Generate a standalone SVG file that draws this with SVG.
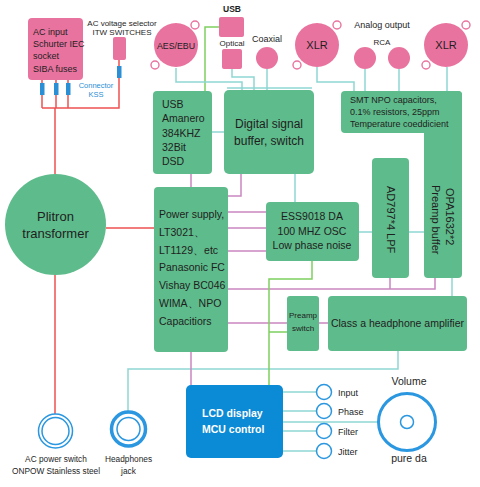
<svg xmlns="http://www.w3.org/2000/svg" width="480" height="487" viewBox="0 0 480 487">
<style>
text{font-family:"Liberation Sans",Arial,sans-serif;fill:#1e1e1e}
.pk{fill:#e9739f}
.gr{fill:#5ebb8b}
.ring{fill:#fff;stroke:#e9739f;stroke-width:1.4}
.red{stroke:#ee5050;stroke-width:1.5;fill:none}
.teal{stroke:#8ed6d2;stroke-width:1.5;fill:none}
.pur{stroke:#c987c0;stroke-width:1.5;fill:none}
.grn{stroke:#7fcf5f;stroke-width:1.5;fill:none}
.bl{stroke:#2a97e0;fill:none}
.kss{fill:#2b8fd6}
.m{text-anchor:middle}
</style>
<rect width="480" height="487" fill="#fff"/>
<g id="connectors">
  <path class="red" d="M42,80V108M56,80V108M68,80V108M42,108H119V60M55,108V174M106,228H154M55,275V414"/>
  <path class="grn" d="M219,27H205V91"/>
  <path class="teal" d="M176,68V82H242V90M232,69V77H254V90M267,69V90M227,88H312M317,67V82H354V91M365,69V91M399,69V91M447,67V91M212,132H224M295,174V202M359,232H372M409,232H424M452,278V296M398,351V369H128V411"/>
  <path class="pur" d="M191,174V187M241,174V196H228M228,212H266M228,228H266M228,251H266M228,289H435V278M390,289V278M228,323H287M319,323H328M191,352V385"/>
  <path class="grn" d="M312,261V279H269V385M269,332H287"/>
  <path class="teal" d="M283,392H316.5M283,411H316.5M283,422H378.5M283,431H316.5M283,451H316.5"/>
</g>
<g id="ac-input"><rect class="pk" x="28" y="18" width="55" height="62" rx="4"/>
  <text x="33" y="35" font-size="9">AC input</text><text x="33" y="47.2" font-size="9">Schurter IEC</text><text x="33" y="59.4" font-size="9">socket</text><text x="33" y="71.6" font-size="9">SIBA fuses</text></g>
<g id="kss-connectors"><rect class="kss" x="40" y="83" width="4.5" height="12"/><rect class="kss" x="54" y="83" width="4.5" height="12"/><rect class="kss" x="66" y="83" width="4.5" height="12"/><rect class="kss" x="117" y="66" width="4.5" height="12"/>
  <text class="m" x="96" y="88" font-size="7.5" style="fill:#2b8fd6">Connector</text><text class="m" x="96" y="97" font-size="7.5" style="fill:#2b8fd6">KSS</text></g>
<g id="ac-voltage-selector"><rect class="pk" x="113" y="37" width="13" height="23" rx="2"/>
  <text class="m" x="122" y="26" font-size="8">AC voltage selector</text><text class="m" x="122" y="35" font-size="8">ITW SWITCHES</text></g>
<g id="aes-ebu"><circle class="pk" cx="176" cy="45" r="22"/><circle class="ring" cx="195" cy="25" r="4"/><circle class="ring" cx="155" cy="65" r="4"/>
  <text class="m" x="176" y="49" font-size="8.8">AES/EBU</text></g>
<g id="usb-in"><rect class="pk" x="219" y="17" width="25" height="20" rx="2"/><text class="m" x="232" y="12" font-size="8.5" font-weight="bold">USB</text></g>
<g id="optical"><rect class="pk" x="222" y="49" width="20" height="20" rx="2"/><text class="m" x="232" y="46" font-size="8">Optical</text></g>
<g id="coaxial"><circle class="pk" cx="267" cy="58" r="11"/><text class="m" x="267" y="42" font-size="9">Coaxial</text></g>
<g id="xlr-left"><circle class="pk" cx="317" cy="45" r="22"/><circle class="ring" cx="337" cy="25" r="4"/><circle class="ring" cx="297" cy="65" r="4"/><text class="m" x="317" y="49" font-size="11">XLR</text></g>
<g id="analog-output"><text class="m" x="382" y="28" font-size="9">Analog output</text><text class="m" x="382" y="45" font-size="8">RCA</text>
  <circle class="pk" cx="365" cy="58" r="11"/><circle class="pk" cx="399" cy="58" r="11"/></g>
<g id="xlr-right"><circle class="pk" cx="446" cy="45" r="22"/><circle class="ring" cx="466" cy="25" r="4"/><circle class="ring" cx="426" cy="65" r="4"/><text class="m" x="446" y="49" font-size="11">XLR</text></g>
<g id="usb-amanero"><rect class="gr" x="153" y="91" width="59" height="83" rx="4"/>
  <text x="162" y="108" font-size="10.5">USB</text><text x="162" y="122.2" font-size="10.5">Amanero</text><text x="162" y="136.5" font-size="10.5">384KHZ</text><text x="162" y="150.7" font-size="10.5">32Bit</text><text x="162" y="165" font-size="10.5">DSD</text></g>
<g id="digital-buffer"><rect class="gr" x="224" y="90" width="90" height="84" rx="5"/>
  <text class="m" x="269" y="128" font-size="12">Digital signal</text><text class="m" x="269" y="145" font-size="12">buffer, switch</text></g>
<g id="smt-opa"><rect class="gr" x="341" y="91" width="121" height="42" rx="4"/><rect class="gr" x="424" y="91" width="38" height="187" rx="4"/>
  <text x="350" y="103" font-size="9">SMT NPO capacitors,</text><text x="350" y="115" font-size="9">0.1% resistors, 25ppm</text><text x="350" y="127" font-size="9">Temperature coeddicient</text>
  <text transform="translate(446,188) rotate(90)" font-size="11">OPA1632*2</text><text transform="translate(432,185) rotate(90)" font-size="11">Preamp buffer</text></g>
<g id="ad797"><rect class="gr" x="372" y="158" width="37" height="120" rx="4"/><text transform="translate(387,186) rotate(90)" font-size="11">AD797*4 LPF</text></g>
<g id="plitron"><circle class="gr" cx="55.5" cy="224.5" r="50.5"/><text class="m" x="55.5" y="221" font-size="13">Plitron</text><text class="m" x="55.5" y="238" font-size="13">transformer</text></g>
<g id="power-supply"><rect class="gr" x="154" y="187" width="74" height="165" rx="4"/>
  <text x="159" y="218" font-size="10.5">Power supply,</text><text x="159" y="236" font-size="10.5">LT3021、</text><text x="159" y="253.5" font-size="10.5">LT1129、etc</text><text x="159" y="271" font-size="10.5">Panasonic FC</text><text x="159" y="289" font-size="10.5">Vishay BC046</text><text x="159" y="306.5" font-size="10.5">WIMA、NPO</text><text x="159" y="324.5" font-size="10.5">Capacitiors</text></g>
<g id="ess9018"><rect class="gr" x="266" y="202" width="93" height="59" rx="4"/>
  <text class="m" x="312" y="220" font-size="10.5">ESS9018 DA</text><text class="m" x="312" y="234.7" font-size="10.5">100 MHZ OSC</text><text class="m" x="312" y="249.4" font-size="10.5">Low phase noise</text></g>
<g id="preamp-switch"><rect class="gr" x="287" y="296" width="32" height="55" rx="3"/><text class="m" x="303" y="318" font-size="8">Preamp</text><text class="m" x="303" y="331" font-size="8">switch</text></g>
<g id="class-a"><rect class="gr" x="328" y="296" width="139" height="55" rx="4"/><text class="m" x="397.5" y="327" font-size="10.5">Class a headphone amplifier</text></g>
<g id="lcd"><rect x="186" y="385" width="97" height="73" rx="5" fill="#0b8ad6"/>
  <text x="202" y="417" font-size="10.5" font-weight="bold" style="fill:#fff">LCD display</text><text x="202" y="433" font-size="10.5" font-weight="bold" style="fill:#fff">MCU control</text></g>
<g id="buttons">
  <circle class="bl" cx="324" cy="392" r="7.5" stroke-width="1.5"/><text x="338" y="395.5" font-size="9">Input</text>
  <circle class="bl" cx="324" cy="411" r="7.5" stroke-width="1.5"/><text x="338" y="414.5" font-size="9">Phase</text>
  <circle class="bl" cx="324" cy="431" r="7.5" stroke-width="1.5"/><text x="338" y="434.5" font-size="9">Filter</text>
  <circle class="bl" cx="324" cy="451" r="7.5" stroke-width="1.5"/><text x="338" y="454.5" font-size="9">Jitter</text></g>
<g id="volume"><circle class="bl" cx="407" cy="422" r="28.5" stroke-width="3"/><circle class="bl" cx="407" cy="422" r="6.5" stroke-width="1.5"/>
  <text class="m" x="409" y="385" font-size="10.5">Volume</text><text class="m" x="409" y="462" font-size="10.5">pure da</text></g>
<g id="ac-power-switch"><circle class="bl" cx="55.5" cy="431" r="17" stroke-width="1.5"/><circle class="bl" cx="55.5" cy="431" r="13.5" stroke-width="1.5"/>
  <text class="m" x="56" y="462" font-size="8.3">AC power switch</text><text class="m" x="56" y="474" font-size="8.3">ONPOW Stainless steel</text></g>
<g id="headphones-jack"><circle class="bl" cx="128.5" cy="429" r="17" stroke-width="3.5"/><circle class="bl" cx="128.5" cy="429" r="11.5" stroke-width="1.5"/>
  <text class="m" x="128.5" y="462" font-size="8.3">Headphones</text><text class="m" x="128.5" y="474" font-size="8.3">jack</text></g>
</svg>
